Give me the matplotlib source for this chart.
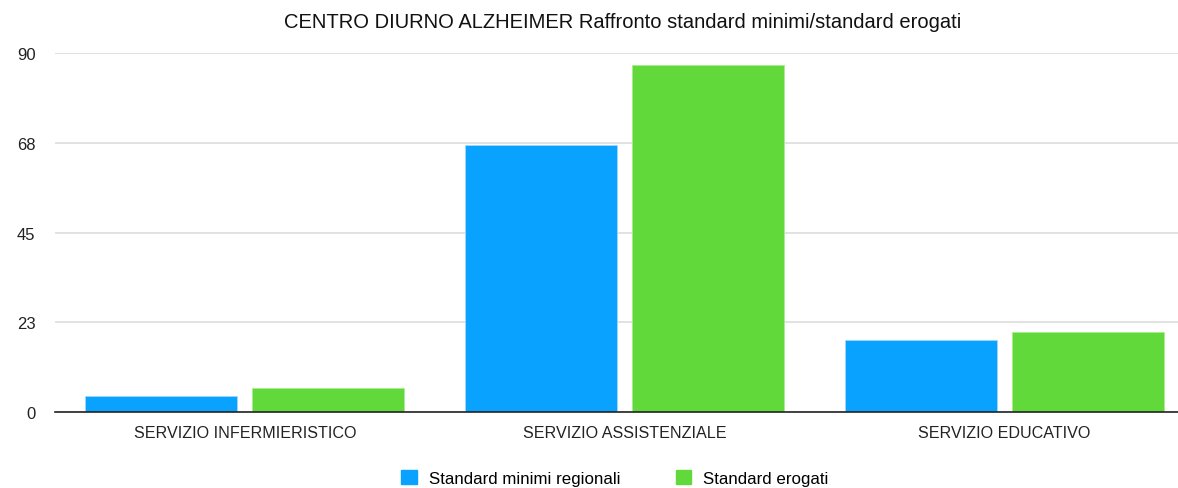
import matplotlib
matplotlib.use('Agg')
import matplotlib.pyplot as plt
import numpy as np

categories = ['SERVIZIO INFERMIERISTICO', 'SERVIZIO ASSISTENZIALE', 'SERVIZIO EDUCATIVO']
minimi = [4, 67, 18]
erogati = [6, 87, 20]
series_names = ['Standard minimi regionali', 'Standard erogati']
ytick_vals = [0, 22.5, 45, 67.5, 90]
ytick_labels = ['0', '23', '45', '68', '90']
title = 'CENTRO DIURNO ALZHEIMER Raffronto standard minimi/standard erogati'

blue = '#0AA2FF'
green = '#62D93A'

plt.rcParams['font.family'] = ['Liberation Sans', 'DejaVu Sans']

fig = plt.figure(figsize=(11.78, 4.89), dpi=100)
ax = fig.add_axes([55 / 1178, 0.1548, 1 - 55 / 1178, 0.7348])

x = np.arange(len(categories))
w = 0.40
gap = 0.04
ax.bar(x - (w + gap) / 2, minimi, w, color=blue, edgecolor='#9fd8ff', linewidth=0.6, zorder=3)
ax.bar(x + (w + gap) / 2, erogati, w, color=green, edgecolor='#a8ec90', linewidth=0.6, zorder=3)

ax.set_xlim(-0.5, -0.5 + (1178 - 55) / 379.7)
ax.set_ylim(0, 90)
ax.set_yticks(ytick_vals)
ax.set_yticklabels(ytick_labels, fontsize=12, color='#222222')
ax.set_xticks(x)
ax.set_xticklabels(categories, fontsize=11.6, color='#222222')
ax.tick_params(axis='both', length=0)
ax.tick_params(axis='y', pad=14)
ax.tick_params(axis='x', pad=9)
ax.grid(axis='y', color='#dddddd', linewidth=1.2, zorder=0)
for s in ['top', 'right', 'left']:
    ax.spines[s].set_visible(False)
ax.spines['bottom'].set_color('#222222')
ax.spines['bottom'].set_linewidth(1.2)
ax.spines['bottom'].set_zorder(4)

fig.text(623 / 1178, 1 - 22 / 489, title, ha='center', va='center', fontsize=14.5, color='#111111')

handles = [plt.Rectangle((0, 0), 1, 1, color=blue), plt.Rectangle((0, 0), 1, 1, color=green)]
fig.legend(handles, series_names, loc='center', bbox_to_anchor=(615 / 1178, 1 - 479 / 489),
           ncol=2, frameon=False, fontsize=12.2, handlelength=0.9, handleheight=0.9,
           handletextpad=0.7, columnspacing=3.3)

fig.savefig('out.png', dpi=100)
